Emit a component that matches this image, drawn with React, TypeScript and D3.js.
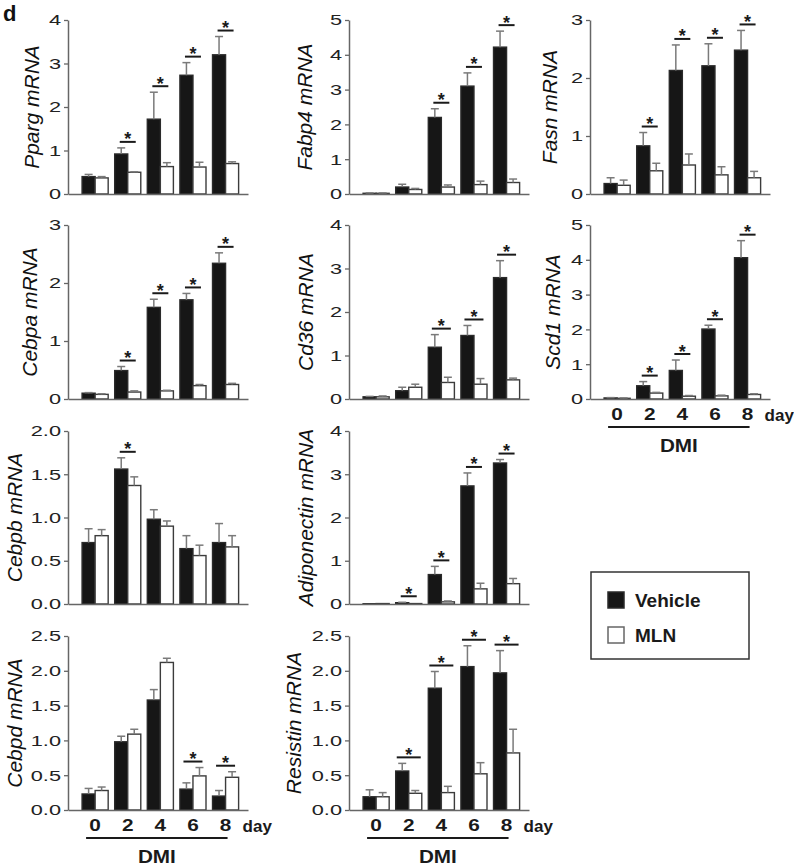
import React, { useEffect, useRef } from "react";
import * as d3 from "d3";

const days = ["0", "2", "4", "6", "8"];

const ppargVeh = [0.4, 0.92, 1.72, 2.73, 3.2];
const ppargVehErr = [0.05, 0.14, 0.62, 0.29, 0.42];
const ppargMln = [0.37, 0.5, 0.63, 0.62, 0.7];
const ppargMlnErr = [0.03, 0.01, 0.09, 0.11, 0.04];
const ppargSig = ["2", "4", "6", "8"];

const fabp4Veh = [0.02, 0.2, 2.2, 3.1, 4.22];
const fabp4VehErr = [0.01, 0.08, 0.25, 0.38, 0.46];
const fabp4Mln = [0.02, 0.13, 0.2, 0.27, 0.33];
const fabp4MlnErr = [0.01, 0.03, 0.06, 0.1, 0.1];
const fabp4Sig = ["4", "6", "8"];

const fasnVeh = [0.18, 0.83, 2.13, 2.21, 2.48];
const fasnVehErr = [0.1, 0.23, 0.44, 0.38, 0.34];
const fasnMln = [0.15, 0.4, 0.5, 0.33, 0.28];
const fasnMlnErr = [0.09, 0.13, 0.19, 0.14, 0.11];
const fasnSig = ["2", "4", "6", "8"];

const cebpaVeh = [0.1, 0.49, 1.58, 1.71, 2.34];
const cebpaVehErr = [0.01, 0.07, 0.14, 0.11, 0.18];
const cebpaMln = [0.08, 0.12, 0.14, 0.23, 0.25];
const cebpaMlnErr = [0.01, 0.02, 0.01, 0.02, 0.02];
const cebpaSig = ["2", "4", "6", "8"];

const cd36Veh = [0.05, 0.19, 1.19, 1.46, 2.79];
const cd36VehErr = [0.01, 0.08, 0.29, 0.23, 0.39];
const cd36Mln = [0.05, 0.27, 0.38, 0.34, 0.44];
const cd36MlnErr = [0.02, 0.07, 0.12, 0.13, 0.04];
const cd36Sig = ["4", "6", "8"];

const scd1Veh = [0.03, 0.38, 0.82, 2.01, 4.06];
const scd1VehErr = [0.01, 0.12, 0.3, 0.11, 0.49];
const scd1Mln = [0.02, 0.17, 0.08, 0.09, 0.13];
const scd1MlnErr = [0.01, 0.02, 0.02, 0.02, 0.02];
const scd1Sig = ["2", "4", "6", "8"];

const cebpbVeh = [0.71, 1.56, 0.98, 0.64, 0.71];
const cebpbVehErr = [0.16, 0.13, 0.11, 0.15, 0.22];
const cebpbMln = [0.79, 1.37, 0.9, 0.56, 0.66];
const cebpbMlnErr = [0.07, 0.1, 0.06, 0.12, 0.13];
const cebpbSig = ["2"];

const adipoVeh = [0.005, 0.03, 0.68, 2.73, 3.26];
const adipoVehErr = [0, 0.01, 0.19, 0.3, 0.08];
const adipoMln = [0.01, 0.01, 0.05, 0.35, 0.47];
const adipoMlnErr = [0, 0, 0.02, 0.13, 0.12];
const adipoSig = ["2", "4", "6", "8"];

const cebpdVeh = [0.23, 0.98, 1.58, 0.3, 0.2];
const cebpdVehErr = [0.08, 0.08, 0.15, 0.09, 0.08];
const cebpdMln = [0.28, 1.09, 2.12, 0.49, 0.47];
const cebpdMlnErr = [0.05, 0.07, 0.06, 0.12, 0.08];
const cebpdSig = ["6", "8"];

const resistinVeh = [0.19, 0.56, 1.75, 2.06, 1.97];
const resistinVehErr = [0.1, 0.11, 0.24, 0.3, 0.32];
const resistinMln = [0.19, 0.24, 0.25, 0.52, 0.82];
const resistinMlnErr = [0.06, 0.04, 0.09, 0.16, 0.34];
const resistinSig = ["2", "4", "6", "8"];

const legendLabels = ["Vehicle", "MLN"];

// layout: axis x per column, [top, zero] per row
const colX = [68, 349, 590];
const rowY = [[20, 194], [225, 399], [431, 604], [636, 810]];

const panels = [
  { gene: "Pparg", col: 0, row: 0, max: 4, step: 1, fmt: "d", lab: 29, sigW: 16, veh: ppargVeh, vehErr: ppargVehErr, mln: ppargMln, mlnErr: ppargMlnErr, sig: ppargSig },
  { gene: "Fabp4", col: 1, row: 0, max: 5, step: 1, fmt: "d", lab: 37, sigW: 16, veh: fabp4Veh, vehErr: fabp4VehErr, mln: fabp4Mln, mlnErr: fabp4MlnErr, sig: fabp4Sig },
  { gene: "Fasn", col: 2, row: 0, max: 3, step: 1, fmt: "d", lab: 33, sigW: 16, veh: fasnVeh, vehErr: fasnVehErr, mln: fasnMln, mlnErr: fasnMlnErr, sig: fasnSig },
  { gene: "Cebpa", col: 0, row: 1, max: 3, step: 1, fmt: "d", lab: 31, sigW: 16, veh: cebpaVeh, vehErr: cebpaVehErr, mln: cebpaMln, mlnErr: cebpaMlnErr, sig: cebpaSig },
  { gene: "Cd36", col: 1, row: 1, max: 4, step: 1, fmt: "d", lab: 36, sigW: 19, veh: cd36Veh, vehErr: cd36VehErr, mln: cd36Mln, mlnErr: cd36MlnErr, sig: cd36Sig },
  { gene: "Scd1", col: 2, row: 1, max: 5, step: 1, fmt: "d", lab: 30, sigW: 16, veh: scd1Veh, vehErr: scd1VehErr, mln: scd1Mln, mlnErr: scd1MlnErr, sig: scd1Sig, days: true },
  { gene: "Cebpb", col: 0, row: 2, max: 2, step: 0.5, fmt: ".1f", lab: 46, sigW: 16, veh: cebpbVeh, vehErr: cebpbVehErr, mln: cebpbMln, mlnErr: cebpbMlnErr, sig: cebpbSig },
  { gene: "Adiponectin", col: 1, row: 2, max: 4, step: 1, fmt: "d", lab: 36, sigW: 16, veh: adipoVeh, vehErr: adipoVehErr, mln: adipoMln, mlnErr: adipoMlnErr, sig: adipoSig },
  { gene: "Cebpd", col: 0, row: 3, max: 2.5, step: 0.5, fmt: ".1f", lab: 46, sigW: 19, veh: cebpdVeh, vehErr: cebpdVehErr, mln: cebpdMln, mlnErr: cebpdMlnErr, sig: cebpdSig, days: true },
  { gene: "Resistin", col: 1, row: 3, max: 2.5, step: 0.5, fmt: ".1f", lab: 48, sigW: 24, veh: resistinVeh, vehErr: resistinVehErr, mln: resistinMln, mlnErr: resistinMlnErr, sig: resistinSig, days: true },
];

const FONT = "'Liberation Sans', Arial, sans-serif";
const INK = "#1a1a1a";

function drawPanel(svg, p) {
  const x0 = colX[p.col];
  const [top, zero] = rowY[p.row];
  const y = d3.scaleLinear().domain([0, p.max]).range([zero, top]);
  const x = d3
    .scaleBand()
    .domain(days)
    .range([x0, x0 + 180])
    .paddingInner(0.2)
    .paddingOuter(0.36)
    .align(0.6);
  const sub = d3.scaleBand().domain(["veh", "mln"]).range([0, x.bandwidth()]);

  const g = svg.append("g");
  const rows = days.map((d, i) => ({
    day: d,
    veh: p.veh[i],
    vehErr: p.vehErr[i],
    mln: p.mln[i],
    mlnErr: p.mlnErr[i],
  }));

  // bars
  const bars = rows.flatMap(r => [
    { day: r.day, k: "veh", v: r.veh, e: r.vehErr },
    { day: r.day, k: "mln", v: r.mln, e: r.mlnErr },
  ]);
  g.selectAll(".bar")
    .data(bars)
    .enter()
    .append("rect")
    .attr("x", d => x(d.day) + sub(d.k))
    .attr("y", d => y(d.v))
    .attr("width", sub.bandwidth())
    .attr("height", d => Math.max(0, zero - y(d.v)))
    .attr("fill", d => (d.k === "veh" ? "#161616" : "#ffffff"))
    .attr("stroke", d => (d.k === "veh" ? "#2a2a2a" : "#3c3c3c"))
    .attr("stroke-width", 1.4);

  // error bars (upper only)
  const mid = d => x(d.day) + sub(d.k) + sub.bandwidth() / 2;
  const eb = g.selectAll(".err").data(bars.filter(d => d.e > 0)).enter().append("g");
  eb.append("line")
    .attr("x1", mid)
    .attr("x2", mid)
    .attr("y1", d => y(d.v))
    .attr("y2", d => y(d.v + d.e))
    .attr("stroke", "#7a7a7a")
    .attr("stroke-width", 1.5);
  eb.append("line")
    .attr("x1", d => mid(d) - 4)
    .attr("x2", d => mid(d) + 4)
    .attr("y1", d => y(d.v + d.e))
    .attr("y2", d => y(d.v + d.e))
    .attr("stroke", "#7a7a7a")
    .attr("stroke-width", 1.5);

  // significance
  const sigRows = rows.filter(r => p.sig.includes(r.day));
  const sg = g.selectAll(".sig").data(sigRows).enter().append("g");
  const lineY = r => Math.min(y(r.veh + r.vehErr), y(r.mln + r.mlnErr)) - 6;
  const cx = r => x(r.day) + x.bandwidth() / 2;
  sg.append("line")
    .attr("x1", r => cx(r) - p.sigW / 2)
    .attr("x2", r => cx(r) + p.sigW / 2)
    .attr("y1", lineY)
    .attr("y2", lineY)
    .attr("stroke", INK)
    .attr("stroke-width", 2);
  sg.append("text")
    .attr("x", cx)
    .attr("y", r => lineY(r) + 3.5)
    .attr("text-anchor", "middle")
    .attr("font-family", FONT)
    .attr("font-weight", "bold")
    .attr("font-size", 18)
    .attr("fill", INK)
    .text("*");

  // y axis
  const yAxis = g
    .append("g")
    .attr("transform", `translate(${x0},0)`)
    .call(
      d3
        .axisLeft(y)
        .tickValues(d3.range(0, p.max + 1e-9, p.step))
        .tickFormat(d3.format(p.fmt))
        .tickSize(4)
        .tickSizeOuter(0)
    );
  yAxis.select(".domain").attr("stroke", "#666").attr("stroke-width", 1.5);
  yAxis.selectAll(".tick line").attr("stroke", "#666").attr("stroke-width", 1.3);
  yAxis
    .selectAll(".tick text")
    .attr("font-family", FONT)
    .attr("font-size", 15)
    .attr("fill", "#222")
    .attr("x", -7 / 1.45)
    .attr("transform", "scale(1.45,1)");

  // x axis
  const xAxis = g
    .append("g")
    .attr("transform", `translate(0,${zero})`)
    .call(
      d3
        .axisBottom(x)
        .tickSize(0)
        .tickSizeOuter(0)
        .tickPadding(10)
        .tickFormat(d => (p.days ? d : ""))
    );
  xAxis.select(".domain").attr("stroke", "#666").attr("stroke-width", 1.5);
  xAxis
    .selectAll(".tick text")
    .attr("font-family", FONT)
    .attr("font-size", 16)
    .attr("font-weight", "bold")
    .attr("fill", INK)
    .attr("transform", "scale(1.3,1)");

  if (p.days) {
    const last = x("8") + x.bandwidth() / 2;
    g.append("text")
      .attr("x", last + 17)
      .attr("y", zero + 22)
      .attr("font-family", FONT)
      .attr("font-size", 17)
      .attr("font-weight", "bold")
      .attr("fill", INK)
      .text("day");
    const lx1 = x("0") + 4;
    const lx2 = last + 2;
    g.append("line")
      .attr("x1", lx1)
      .attr("x2", lx2)
      .attr("y1", zero + 28)
      .attr("y2", zero + 28)
      .attr("stroke", INK)
      .attr("stroke-width", 2);
    const dmiX = (lx1 + lx2) / 2;
    g.append("text")
      .attr("x", 0)
      .attr("y", 0)
      .attr("text-anchor", "middle")
      .attr("font-family", FONT)
      .attr("font-size", 18)
      .attr("font-weight", "bold")
      .attr("fill", INK)
      .attr("transform", `translate(${dmiX},${zero + 53}) scale(1.15,1)`)
      .text("DMI");
  }

  // y label
  g.append("text")
    .attr("transform", `translate(${x0 - p.lab},${(top + zero) / 2}) rotate(-90)`)
    .attr("text-anchor", "middle")
    .attr("font-family", FONT)
    .attr("font-style", "italic")
    .attr("font-size", 21)
    .attr("fill", "#111")
    .text(`${p.gene} mRNA`);
}

export default function App() {
  const ref = useRef(null);

  useEffect(() => {
    const svg = d3.select(ref.current);
    svg.selectAll("*").remove();

    svg.append("rect").attr("width", 794).attr("height", 867).attr("fill", "#fff");

    svg
      .append("text")
      .attr("x", 3)
      .attr("y", 21)
      .attr("font-family", FONT)
      .attr("font-weight", "bold")
      .attr("font-size", 22)
      .attr("fill", "#111")
      .text("d");

    panels.forEach(p => drawPanel(svg, p));

    // legend
    const lg = svg.append("g").attr("transform", "translate(591,572)");
    lg.append("rect")
      .attr("width", 158)
      .attr("height", 87)
      .attr("fill", "#fff")
      .attr("stroke", "#333")
      .attr("stroke-width", 1.5);
    const ly = d3.scalePoint().domain(legendLabels).range([28, 63]);
    const item = lg
      .selectAll(".item")
      .data(legendLabels)
      .enter()
      .append("g")
      .attr("transform", d => `translate(0,${ly(d)})`);
    item.append("rect")
      .attr("x", 17)
      .attr("y", -8)
      .attr("width", 16)
      .attr("height", 16)
      .attr("fill", (d, i) => (i === 0 ? "#161616" : "#fff"))
      .attr("stroke", (d, i) => (i === 0 ? "#2a2a2a" : "#666"))
      .attr("stroke-width", 1.5);
    item.append("text")
      .attr("x", 44)
      .attr("y", 7)
      .attr("font-family", FONT)
      .attr("font-weight", "bold")
      .attr("font-size", 19)
      .attr("fill", INK)
      .text(d => d);
  }, []);

  return (
    <svg
      ref={ref}
      width={794}
      height={867}
      style={{ position: "absolute", left: 0, top: 0 }}
    />
  );
}
